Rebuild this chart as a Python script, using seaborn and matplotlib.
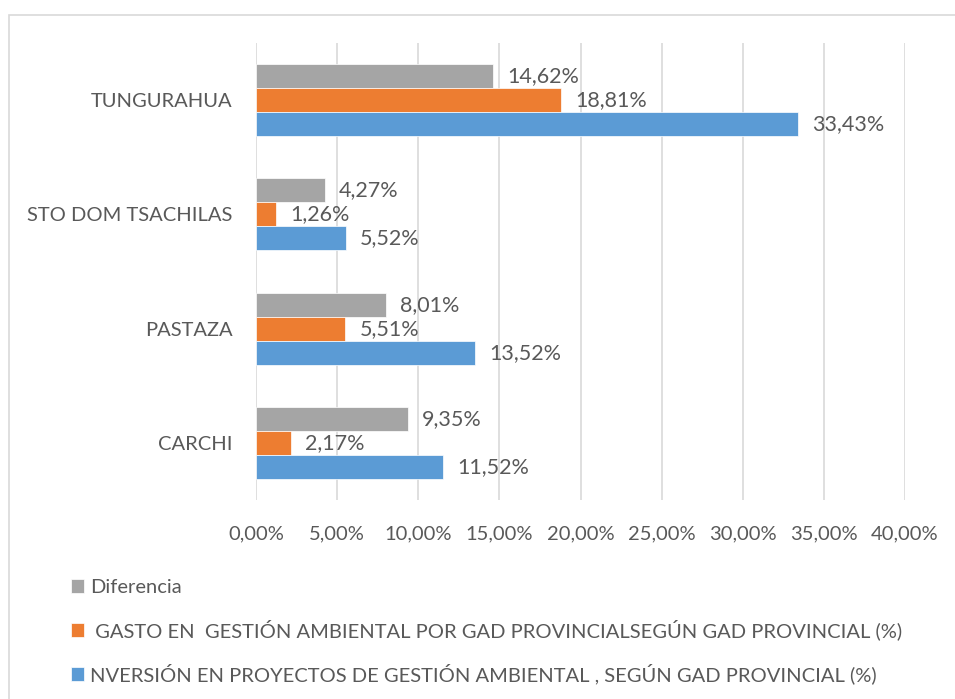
import pandas as pd
import seaborn as sns
import matplotlib.pyplot as plt
from matplotlib.patches import Rectangle
from matplotlib.ticker import FuncFormatter, MultipleLocator

provincias = ['TUNGURAHUA', 'STO DOM TSACHILAS', 'PASTAZA', 'CARCHI']
series = ['Diferencia',
          ' GASTO EN  GESTIÓN AMBIENTAL POR GAD PROVINCIALSEGÚN GAD PROVINCIAL (%)',
          'NVERSIÓN EN PROYECTOS DE GESTIÓN AMBIENTAL , SEGÚN GAD PROVINCIAL (%)']
diferencia = [14.62, 4.27, 8.01, 9.35]
gasto = [18.81, 1.26, 5.51, 2.17]
inversion = [33.43, 5.52, 13.52, 11.52]

palette = ['#A5A5A5', '#ED7D31', '#5B9BD5']
text_color = '#595959'

rows = []
for serie, valores in zip(series, [diferencia, gasto, inversion]):
    for prov, v in zip(provincias, valores):
        rows.append({'provincia': prov, 'serie': serie, 'valor': v / 100})
df = pd.DataFrame(rows)

sns.set_style("white")
plt.rcParams['font.family'] = ['Lato', 'DejaVu Sans']

fig = plt.figure(figsize=(9.55, 6.99), dpi=100)
ax = fig.add_axes([256 / 955, 1 - 500 / 699, (905 - 256) / 955, (500 - 43) / 699])

sns.barplot(data=df, y='provincia', x='valor', hue='serie', order=provincias,
            hue_order=series, palette=palette, saturation=1, width=0.63, orient='h',
            edgecolor='white', linewidth=0.5, ax=ax)

def pct(v, pos=None):
    return f'{v * 100:.2f}%'.replace('.', ',')

for cont in ax.containers:
    ax.bar_label(cont, labels=[pct(b.get_width()) for b in cont],
                 padding=10, fontsize=15.5, color=text_color)

ax.set_xlim(0, 0.40)
ax.set_ylim(3.5, -0.5)
ax.xaxis.set_major_locator(MultipleLocator(0.05))
ax.xaxis.set_major_formatter(FuncFormatter(pct))
ax.grid(axis='x', color='#D9D9D9', linewidth=1.2)
ax.set_axisbelow(True)
for s in ax.spines.values():
    s.set_visible(False)
ax.tick_params(axis='x', length=0, pad=18, labelsize=14.5, labelcolor=text_color)
ax.tick_params(axis='y', length=0, pad=17, labelsize=14.5, labelcolor=text_color)
ax.set_xlabel('')
ax.set_ylabel('')

handles, labels = ax.get_legend_handles_labels()
ax.get_legend().remove()
fig.legend(handles, labels, loc='upper left', bbox_to_anchor=(63 / 955, 1 - 571 / 699),
           frameon=False, handlelength=0.65, handleheight=0.65, handletextpad=0.3,
           labelspacing=1.15, fontsize=14.5, labelcolor=text_color, borderaxespad=0)

fig.add_artist(Rectangle((9 / 955, -0.01), 1.0, 1 - 15 / 699 + 0.01,
                         transform=fig.transFigure, fill=False,
                         edgecolor='#D9D9D9', linewidth=1.2))

plt.savefig('out.png', dpi=100)
